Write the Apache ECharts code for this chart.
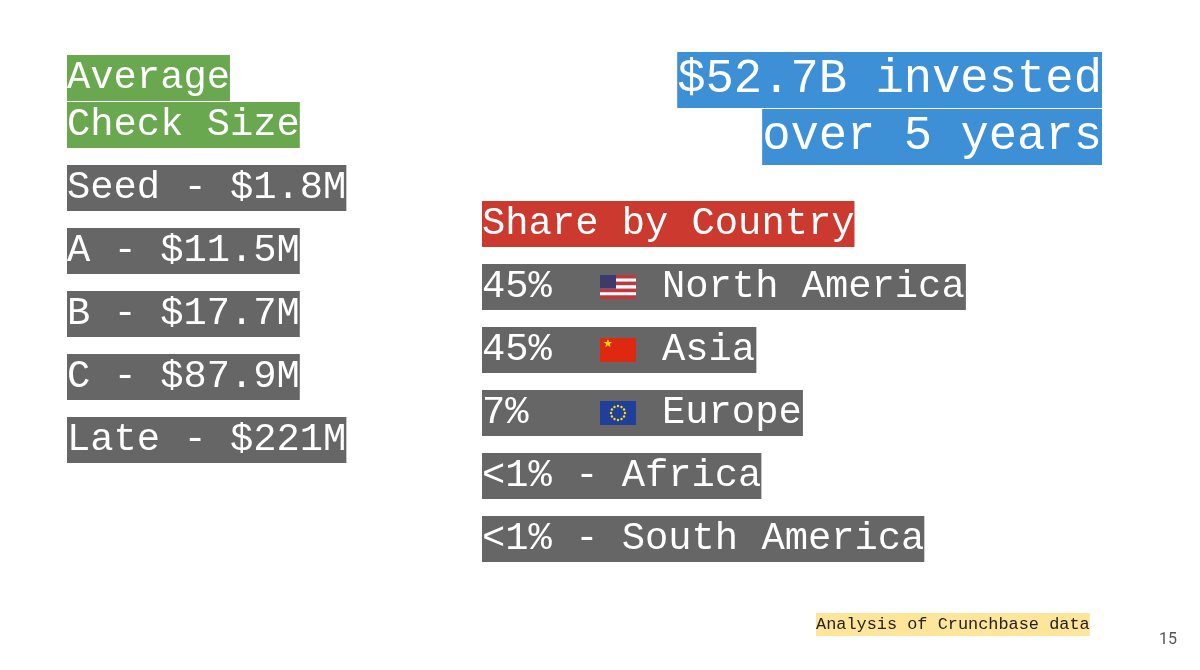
<!DOCTYPE html>
<html>
<head>
<meta charset="utf-8">
<script src="https://cdn.jsdelivr.net/npm/echarts@6/dist/echarts.min.js"></script>
<style>html,body{margin:0;padding:0;background:#fff}#main{width:1200px;height:670px}</style>
</head>
<body>
<div id="main"></div>
<script>
// slide data
var checkTitle = ['Average', 'Check Size'];
var rounds = ['Seed', 'A', 'B', 'C', 'Late'];
var checkSizes = ['$1.8M', '$11.5M', '$17.7M', '$87.9M', '$221M'];
var headline = ['$52.7B invested', 'over 5 years'];
var shareTitle = 'Share by Country';
var shares = ['45%', '45%', '7%', '<1%', '<1%'];
var regions = ['North America', 'Asia', 'Europe', 'Africa', 'South America'];
var flags = ['us', 'cn', 'eu', null, null];
var footnote = 'Analysis of Crunchbase data';
var pageNo = '15';

var FONT = '"Liberation Mono", "DejaVu Sans Mono", monospace';
var GRAY = '#666666';
var g = [];

function box(x, y, w, h, color, str, size, textColor) {
    g.push({ type: 'rect', shape: { x: x, y: y, width: w, height: h }, style: { fill: color } });
    g.push({
        type: 'text', x: x, y: y + h / 2,
        style: { text: str, fill: textColor || '#fff', font: size + 'px ' + FONT, verticalAlign: 'middle' }
    });
}
function cw(n, size) { return n * size * 0.6; }

function flag(kind, x, y) {
    var w = 36, h = 24;
    if (kind === 'us') {
        for (var i = 0; i < 7; i++) {
            g.push({ type: 'rect', shape: { x: x, y: y + i * h / 7, width: w, height: h / 7 },
                style: { fill: i % 2 ? '#fff' : '#c8343a' } });
        }
        g.push({ type: 'rect', shape: { x: x, y: y, width: 16, height: h * 4 / 7 }, style: { fill: '#3c3b6e' } });
    } else if (kind === 'cn') {
        g.push({ type: 'rect', shape: { x: x, y: y, width: w, height: h }, style: { fill: '#de2910' } });
        g.push({ type: 'text', x: x + 3, y: y + 1, style: { text: '★', fill: '#ffde00', font: '11px "DejaVu Sans"' } });
    } else if (kind === 'eu') {
        g.push({ type: 'rect', shape: { x: x, y: y, width: w, height: h }, style: { fill: '#1f3f9a' } });
        for (var k = 0; k < 12; k++) {
            var a = k * Math.PI / 6;
            g.push({ type: 'circle', shape: { cx: x + w / 2 + 7 * Math.cos(a), cy: y + h / 2 + 7 * Math.sin(a), r: 1.2 },
                style: { fill: '#ffdd00' } });
        }
    }
}

// left column
var S = 38.8, H = 46;
box(67, 55, cw(checkTitle[0].length, S), H, '#6aa84f', checkTitle[0], S);
box(67, 102, cw(checkTitle[1].length, S), H, '#6aa84f', checkTitle[1], S);
rounds.forEach(function (r, i) {
    var s = r + ' - ' + checkSizes[i];
    box(67, 165 + i * 63, cw(s.length, S), H, GRAY, s, S);
});

// headline, right aligned
var HS = 47.2;
headline.forEach(function (t, i) {
    var w = cw(t.length, HS);
    box(1102 - w, 52 + i * 57, w, 56, '#3d8fd6', t, HS);
});

// share by country
box(482, 201, cw(shareTitle.length, S), H, '#cc3a2f', shareTitle, S);
shares.forEach(function (p, i) {
    var y = 264 + i * 63;
    if (flags[i]) {
        var w = cw(8 + regions[i].length, S) - 5;
        g.push({ type: 'rect', shape: { x: 482, y: y, width: w, height: H }, style: { fill: GRAY } });
        g.push({ type: 'text', x: 482, y: y + H / 2, style: { text: p, fill: '#fff', font: S + 'px ' + FONT, verticalAlign: 'middle' } });
        flag(flags[i], 600, y + 11);
        g.push({ type: 'text', x: 662, y: y + H / 2, style: { text: regions[i], fill: '#fff', font: S + 'px ' + FONT, verticalAlign: 'middle' } });
    } else {
        var s = p + ' - ' + regions[i];
        box(482, y, cw(s.length, S), H, GRAY, s, S);
    }
});

// footnote and page number
box(816, 613, cw(footnote.length, 16.9), 23, '#ffe599', footnote, 16.9, '#222');
g.push({ type: 'text', x: 1177, y: 640, style: { text: pageNo, fill: '#555', font: '16px Roboto', align: 'right', verticalAlign: 'middle' } });

var myChart = echarts.init(document.getElementById('main'));
myChart.setOption({ backgroundColor: '#fff', animation: false, graphic: g });
</script>
</body>
</html>
